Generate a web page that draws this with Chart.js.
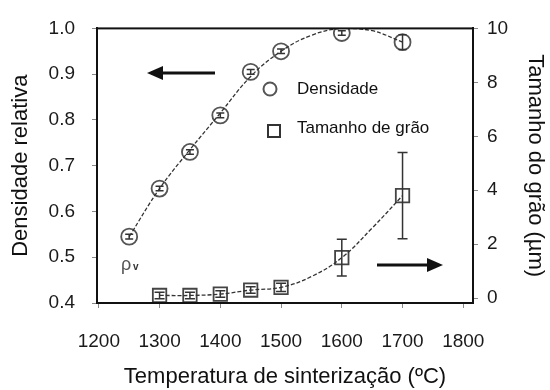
<!DOCTYPE html>
<html>
<head>
<meta charset="utf-8">
<script src="https://cdn.jsdelivr.net/npm/chart.js@4.4.0/dist/chart.umd.min.js"></script>
<style>
  html, body { margin: 0; padding: 0; background: #fff; }
  #wrap { width: 550px; height: 390px; position: relative; }
</style>
</head>
<body>
<div id="wrap"><canvas id="c" width="550" height="390"></canvas></div>
<script>
// ---- Data ----
const densityTemps = [1250, 1300, 1350, 1400, 1450, 1500, 1600, 1700];
const densityValues = [0.545, 0.65, 0.73, 0.81, 0.905, 0.95, 0.99, 0.97];
const densityErr = [0.005, 0.005, 0.005, 0.005, 0.005, 0.005, 0.005, 0.016];

const grainTemps = [1300, 1350, 1400, 1450, 1500, 1600, 1700];
const grainValues = [0.1, 0.1, 0.15, 0.3, 0.4, 1.5, 3.8];
const grainErr = [0.12, 0.12, 0.12, 0.12, 0.15, 0.68, 1.6];

// fitted curves
const densityFitTemps = [1250, 1300, 1350, 1400, 1450, 1500, 1550, 1600, 1650, 1700];
const densityFitValues = [0.545, 0.65, 0.735, 0.815, 0.895, 0.95, 0.985, 1.0, 0.995, 0.97];
const grainFitTemps = [1300, 1350, 1400, 1450, 1500, 1550, 1600, 1650, 1700];
const grainFitValues = [0.1, 0.1, 0.15, 0.3, 0.4, 0.8, 1.5, 2.6, 3.8];

const xTicks = [1200, 1300, 1400, 1500, 1600, 1700, 1800];
const yLeftTicks = [0.4, 0.5, 0.6, 0.7, 0.8, 0.9, 1.0];
const yRightTicks = [0, 2, 4, 6, 8, 10];

const xTitle = 'Temperatura de sinterização (ºC)';
const yLeftTitle = 'Densidade relativa';
const yRightTitle = 'Tamanho do grão (µm)';
const legendLabels = ['Densidade', 'Tamanho de grão'];

// ---- helpers ----
const FONT = '"Liberation Sans", Arial, sans-serif';
const pts = (xs, ys) => xs.map((x, i) => ({ x: x, y: ys[i] }));

const errorBarPlugin = {
  id: 'errorBars',
  afterDatasetsDraw(chart) {
    const ctx = chart.ctx;
    const xs = chart.scales.x;
    const sets = [
      { temps: densityTemps, vals: densityValues, errs: densityErr, scale: chart.scales.y, cap: 4 },
      { temps: grainTemps, vals: grainValues, errs: grainErr, scale: chart.scales.y2, cap: 5 }
    ];
    ctx.save();
    ctx.strokeStyle = '#333';
    ctx.lineWidth = 1.5;
    sets.forEach(s => {
      s.temps.forEach((t, i) => {
        const px = xs.getPixelForValue(t);
        const top = s.scale.getPixelForValue(s.vals[i] + s.errs[i]);
        const bot = s.scale.getPixelForValue(s.vals[i] - s.errs[i]);
        ctx.beginPath();
        ctx.moveTo(px, top); ctx.lineTo(px, bot);
        ctx.moveTo(px - s.cap, top); ctx.lineTo(px + s.cap, top);
        ctx.moveTo(px - s.cap, bot); ctx.lineTo(px + s.cap, bot);
        ctx.stroke();
      });
    });
    ctx.restore();
  }
};

const decorPlugin = {
  id: 'decor',
  afterDraw(chart) {
    const ctx = chart.ctx;
    const a = chart.chartArea;
    ctx.save();
    // frame
    ctx.strokeStyle = '#111';
    ctx.lineWidth = 2;
    ctx.strokeRect(a.left, a.top, a.right - a.left, a.bottom - a.top);

    // legend
    ctx.strokeStyle = '#555';
    ctx.lineWidth = 2;
    ctx.beginPath();
    ctx.arc(270, 89, 6.5, 0, Math.PI * 2);
    ctx.stroke();
    ctx.strokeStyle = '#333';
    ctx.strokeRect(268, 125, 12, 12);
    ctx.fillStyle = '#111';
    ctx.font = '17px ' + FONT;
    ctx.textBaseline = 'middle';
    ctx.textAlign = 'left';
    ctx.fillText(legendLabels[0], 297, 89);
    ctx.fillText(legendLabels[1], 297, 128);

    // arrows
    function arrow(x1, x2, y, dir) {
      ctx.strokeStyle = '#111';
      ctx.fillStyle = '#111';
      ctx.lineWidth = 3;
      const headLen = 16;
      const tip = x2;
      ctx.beginPath();
      ctx.moveTo(x1, y);
      ctx.lineTo(tip - dir * (headLen - 2), y);
      ctx.stroke();
      ctx.beginPath();
      ctx.moveTo(tip, y);
      ctx.lineTo(tip - dir * headLen, y - 7);
      ctx.lineTo(tip - dir * headLen, y + 7);
      ctx.closePath();
      ctx.fill();
    }
    arrow(215, 147, 73, -1);
    arrow(377, 443, 265, 1);

    // rho_v label
    ctx.fillStyle = '#555';
    ctx.font = '18px ' + FONT;
    ctx.textBaseline = 'alphabetic';
    ctx.fillText('ρ', 121, 270);
    ctx.font = 'bold 10px ' + FONT;
    ctx.fillStyle = '#333';
    ctx.fillText('v', 133, 270);
    ctx.restore();
  }
};

const tickFont = { family: FONT, size: 19 };
const titleFont = { family: FONT, size: 22, lineHeight: 1 };

new Chart(document.getElementById('c'), {
  type: 'line',
  data: {
    datasets: [
      {
        label: 'fitDensity',
        data: pts(densityFitTemps, densityFitValues),
        yAxisID: 'y',
        borderColor: '#333',
        borderWidth: 1.3,
        borderDash: [4, 2],
        pointRadius: 0,
        tension: 0.4,
        fill: false
      },
      {
        label: 'fitGrain',
        data: pts(grainFitTemps, grainFitValues),
        yAxisID: 'y2',
        borderColor: '#333',
        borderWidth: 1.3,
        borderDash: [4, 2],
        pointRadius: 0,
        tension: 0.4,
        fill: false
      },
      {
        label: legendLabels[0],
        data: pts(densityTemps, densityValues),
        yAxisID: 'y',
        showLine: false,
        pointStyle: 'circle',
        pointRadius: 8,
        pointBorderWidth: 1.8,
        pointBorderColor: '#555',
        pointBackgroundColor: 'rgba(255,255,255,0)'
      },
      {
        label: legendLabels[1],
        data: pts(grainTemps, grainValues),
        yAxisID: 'y2',
        showLine: false,
        pointStyle: 'rect',
        pointRadius: 9.5,
        pointBorderWidth: 1.8,
        pointBorderColor: '#444',
        pointBackgroundColor: 'rgba(255,255,255,0)'
      }
    ]
  },
  options: {
    responsive: false,
    animation: false,
    layout: { padding: { top: 20, left: 0, right: 0, bottom: 0 } },
    plugins: { legend: { display: false }, tooltip: { enabled: false } },
    scales: {
      x: {
        type: 'linear',
        min: 1197,
        max: 1816,
        afterBuildTicks: s => { s.ticks = xTicks.map(v => ({ value: v })); },
        afterFit: s => { s.height = 87; },
        ticks: { font: tickFont, color: '#1a1a1a', padding: 22, maxRotation: 0, callback: v => String(v) },
        grid: { drawOnChartArea: false, drawTicks: true, tickLength: 5, color: '#888' },
        border: { display: true, color: '#111', width: 2 },
        title: { display: true, text: xTitle, font: titleFont, color: '#111', padding: { top: 0, bottom: 2 } }
      },
      y: {
        type: 'linear',
        position: 'left',
        min: 0.4,
        max: 1.0,
        afterBuildTicks: s => { s.ticks = yLeftTicks.map(v => ({ value: v })); },
        afterFit: s => { s.width = 97; },
        ticks: { font: tickFont, color: '#1a1a1a', padding: 17, callback: v => Number(v).toFixed(1) },
        grid: { drawOnChartArea: false, drawTicks: true, tickLength: 5, color: '#888' },
        border: { display: true, color: '#111', width: 2 },
        title: { display: true, text: yLeftTitle, font: titleFont, color: '#111', padding: { top: 10, bottom: 0 } }
      },
      y2: {
        type: 'linear',
        position: 'right',
        min: -0.18,
        max: 10,
        afterBuildTicks: s => { s.ticks = yRightTicks.map(v => ({ value: v })); },
        afterFit: s => { s.width = 77; },
        ticks: { font: tickFont, color: '#1a1a1a', padding: 9, callback: v => String(v) },
        grid: { drawOnChartArea: false, drawTicks: true, tickLength: 5, color: '#888' },
        border: { display: true, color: '#111', width: 2 },
        title: { display: true, text: yRightTitle, font: titleFont, color: '#111', padding: { top: 3.5, bottom: 0 } }
      }
    }
  },
  plugins: [errorBarPlugin, decorPlugin]
});
</script>
</body>
</html>
